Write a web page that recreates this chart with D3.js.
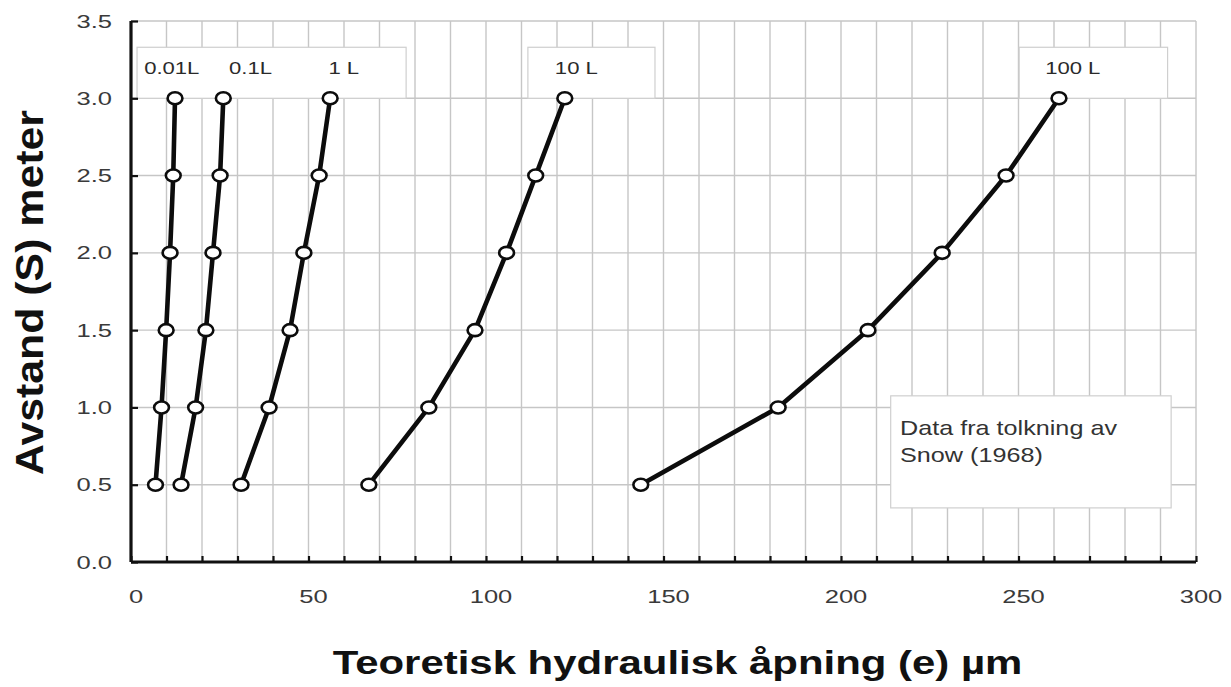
<!DOCTYPE html>
<html>
<head>
<meta charset="utf-8">
<script src="https://cdn.jsdelivr.net/npm/d3@7"></script>
<style>
  html, body { margin: 0; padding: 0; background: #fff; }
  svg { display: block; font-family: "Liberation Sans", Arial, sans-serif; }
</style>
</head>
<body>
<svg id="chart" width="1231" height="687"></svg>
<script>
// Distance S (m) at which each aperture was evaluated
const distances = [0.5, 1.0, 1.5, 2.0, 2.5, 3.0];

// Theoretical hydraulic aperture e (µm) for each flow rate
const seriesNames = ["0.01L", "0.1L", "1 L", "10 L", "100 L"];
const aperture001 = [6.9, 8.6, 9.9, 11.0, 11.9, 12.4];
const aperture01  = [14.1, 18.2, 21.1, 23.1, 25.1, 26.0];
const aperture1   = [31.0, 38.9, 44.8, 48.7, 53.0, 56.1];
const aperture10  = [67.0, 83.9, 96.9, 105.8, 114.0, 122.2];
const aperture100 = [143.6, 182.3, 207.6, 228.5, 246.5, 261.4];
const seriesValues = [aperture001, aperture01, aperture1, aperture10, aperture100];

// Axis ticks
const xTicks = [0, 50, 100, 150, 200, 250, 300];
const yTicks = [0, 0.5, 1.0, 1.5, 2.0, 2.5, 3.0, 3.5];

const xTitle = "Teoretisk hydraulisk åpning (e) µm";
const yTitle = "Avstand (S) meter";
const noteLines = ["Data fra tolkning av", "Snow (1968)"];

const svg = d3.select("#chart");

const x = d3.scaleLinear().domain([0, 300]).range([131, 1196]);
const y = d3.scaleLinear().domain([0, 3.5]).range([562, 21]);

// Text with a wide (horizontally stretched) face: placed in a group that is
// translated to the anchor point and scaled along the text direction.
function wideText(parent, px, py, str, opts) {
  const g = parent.append("g");
  const t = g.append("text")
    .attr("text-anchor", opts.anchor || "start")
    .attr("fill", opts.fill || "#222")
    .style("font-size", opts.size + "px")
    .style("font-weight", opts.weight || "normal")
    .text(str);
  let k = opts.k || 1;
  if (opts.width) k = opts.width / t.node().getComputedTextLength();
  const rot = opts.rotate ? ` rotate(${opts.rotate})` : "";
  g.attr("transform", `translate(${px},${py})${rot} scale(${k},1)`);
  return g;
}

// Grid: vertical every 10 µm, horizontal every 0.5 m
const grid = svg.append("g");
grid.selectAll("line.v")
  .data(d3.range(10, 301, 10))
  .join("line")
  .attr("x1", d => x(d)).attr("x2", d => x(d))
  .attr("y1", y(0)).attr("y2", y(3.5))
  .attr("stroke", "#c6c6c6").attr("stroke-width", 1.4);
grid.selectAll("line.h")
  .data(yTicks.filter(d => d > 0))
  .join("line")
  .attr("x1", x(0)).attr("x2", x(300))
  .attr("y1", d => y(d)).attr("y2", d => y(d))
  .attr("stroke", "#c6c6c6").attr("stroke-width", 1.4);

// Label boxes (white backgrounds with light border)
function box(x0, x1, y0, y1) {
  svg.append("rect")
    .attr("x", x(x0)).attr("y", y(y0))
    .attr("width", x(x1) - x(x0)).attr("height", y(y1) - y(y0))
    .attr("fill", "#fff").attr("stroke", "#cfcfcf").attr("stroke-width", 1.2);
}
box(1.7, 77.5, 3.33, 3.0);
box(111.8, 147.6, 3.33, 3.0);
box(250.2, 292.0, 3.33, 3.0);
box(214.0, 293.0, 1.075, 0.35);

// Axes (tick marks only; labels drawn separately in the wide face)
const yAxis = d3.axisLeft(y).tickValues(yTicks).tickSize(-7).tickFormat("");
const gy = svg.append("g").attr("transform", `translate(${x(0)},0)`).call(yAxis);
const xAxis = d3.axisBottom(x).tickValues(d3.range(0, 301, 10)).tickSize(-6).tickFormat("");
const gx = svg.append("g").attr("transform", `translate(0,${y(0)})`).call(xAxis);

[gx, gy].forEach(g => {
  g.select(".domain").attr("stroke", "#111").attr("stroke-width", 3.2);
  g.selectAll(".tick line").attr("stroke", "#111").attr("stroke-width", 2.2);
});
gy.select(".domain").attr("d", `M0,${y(3.5)}V${y(0)}`);
gx.select(".domain").attr("d", `M${x(0)},0H${x(300)}`);

const yLabelFmt = d3.format(".1f");
yTicks.forEach(v => {
  wideText(svg, x(0) - 19, y(v) + 6.5, yLabelFmt(v),
    { size: 18, anchor: "end", fill: "#3a3a3a", k: 1.42 });
});
xTicks.forEach(v => {
  wideText(svg, x(v) + 5, 603, String(v),
    { size: 18, anchor: "middle", fill: "#3a3a3a", k: 1.42 });
});

// Series lines and markers
const line = d3.line()
  .x(d => x(d[0]))
  .y(d => y(d[1]));

seriesValues.forEach((vals, i) => {
  const pts = vals.map((v, j) => [v, distances[j]]);
  const g = svg.append("g");
  g.append("path")
    .datum(pts)
    .attr("d", line)
    .attr("fill", "none")
    .attr("stroke", "#0c0c0c")
    .attr("stroke-width", 4.6)
    .attr("stroke-linejoin", "round");
  g.selectAll("ellipse")
    .data(pts)
    .join("ellipse")
    .attr("cx", d => x(d[0]))
    .attr("cy", d => y(d[1]))
    .attr("rx", 7.4).attr("ry", 6)
    .attr("fill", "#fff")
    .attr("stroke", "#0c0c0c")
    .attr("stroke-width", 2.6);
});

// Series labels (start positions in µm)
const labelStart = [3.7, 27.6, 55.6, 119.4, 257.5];
seriesNames.forEach((name, i) => {
  wideText(svg, x(labelStart[i]), 74, name,
    { size: 16, fill: "#2a2a2a", k: 1.38 });
});

// Note
noteLines.forEach((t, i) => {
  wideText(svg, 900, 435 + i * 27, t, { size: 20, fill: "#333", k: 1.26 });
});

// Axis titles
wideText(svg, 677.5, 674, xTitle,
  { size: 33, weight: "bold", anchor: "middle", fill: "#111", width: 690 });
wideText(svg, 43, 292.5, yTitle,
  { size: 38, weight: "bold", anchor: "middle", fill: "#111", width: 365, rotate: -90 });
</script>
</body>
</html>
